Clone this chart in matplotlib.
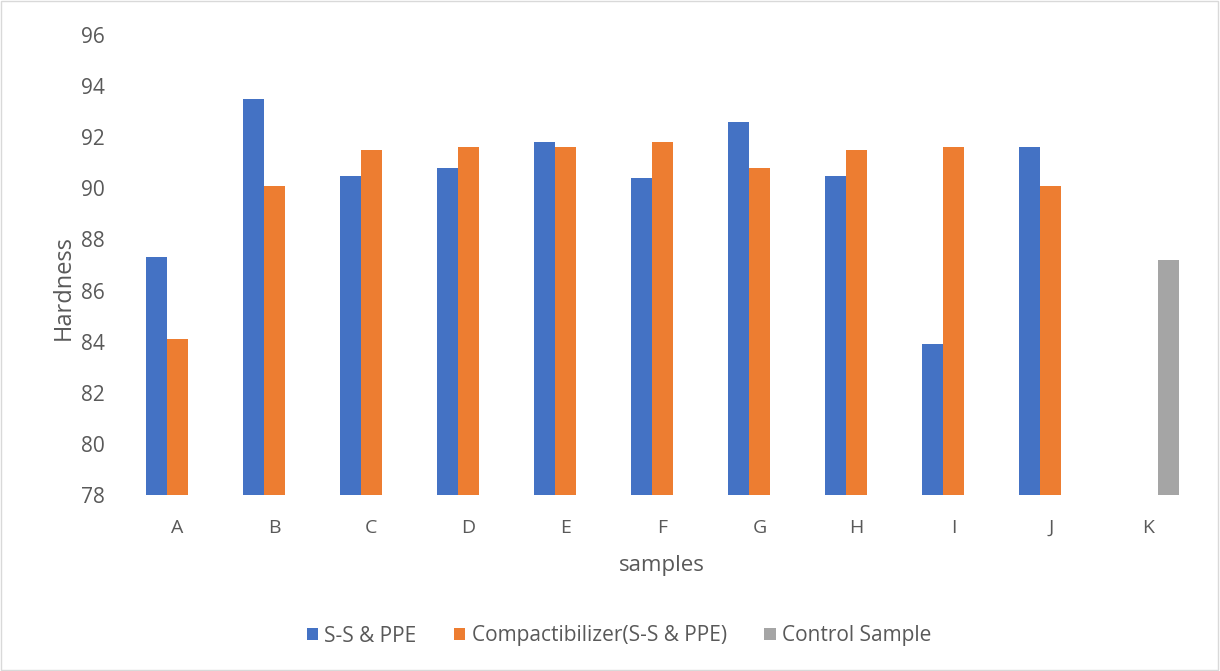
import numpy as np
import matplotlib.pyplot as plt
from matplotlib.patches import Rectangle

SAMPLES = ["A", "B", "C", "D", "E", "F", "G", "H", "I", "J", "K"]
SS_PPE = [87.3, 93.5, 90.5, 90.8, 91.8, 90.4, 92.6, 90.5, 83.9, 91.6, np.nan]
COMPAT = [84.1, 90.1, 91.5, 91.6, 91.6, 91.8, 90.8, 91.5, 91.6, 90.1, np.nan]
CONTROL = [np.nan] * 10 + [87.2]
Y_TICKS = [78, 80, 82, 84, 86, 88, 90, 92, 94, 96]

BLUE = "#4472C4"
ORANGE = "#ED7D31"
GREY = "#A5A5A5"
TXT = "#595959"

plt.rcParams['font.family'] = ['Open Sans', 'DejaVu Sans']

fig = plt.figure(figsize=(12.2, 6.71), dpi=100)
ax = fig.add_axes([128.5 / 1220, 1 - 495 / 671, 1068 / 1220, 460 / 671])

x = np.arange(len(SAMPLES))
w = 0.216
base = 78
ss = np.array(SS_PPE) - base
cp = np.array(COMPAT) - base
ct = np.array(CONTROL) - base
ax.bar(x - w, ss, w, bottom=base, color=BLUE, label="S-S & PPE")
ax.bar(x, cp, w, bottom=base, color=ORANGE, label="Compactibilizer(S-S & PPE)")
ax.bar(x + w, ct, w, bottom=base, color=GREY, label="Control Sample")

ax.set_xlim(-0.5, len(SAMPLES) - 0.5)
ax.set_ylim(78, 96)
ax.set_yticks(Y_TICKS)
ax.set_xticks(x)
ax.set_xticklabels(SAMPLES)
ax.tick_params(axis='both', length=0, colors=TXT)
ax.tick_params(axis='y', labelsize=15, pad=17)
ax.tick_params(axis='x', labelsize=14, pad=17)
for s in ax.spines.values():
    s.set_visible(False)

ax.set_ylabel("Hardness", fontsize=17, color=TXT)
ax.yaxis.label.set_va('center')
ax.yaxis.set_label_coords((64 - 128.5) / 1068, (495 - 287) / 460)
ax.set_xlabel("samples", fontsize=16, color=TXT)
ax.xaxis.label.set_va('center')
ax.xaxis.set_label_coords((662 - 128.5) / 1068, (495 - 566) / 460)

fig.legend(loc='center', bbox_to_anchor=(619 / 1220, 1 - 636 / 671), ncol=3,
           frameon=False, fontsize=15, labelcolor=TXT, handlelength=0.55,
           handleheight=0.55, handletextpad=0.3, columnspacing=1.8)

fig.patches.append(Rectangle((0.001, 0.001), 0.997, 0.997, transform=fig.transFigure,
                             fill=False, edgecolor="#D9D9D9", linewidth=1))

fig.savefig("out.png", dpi=100, facecolor='white')
